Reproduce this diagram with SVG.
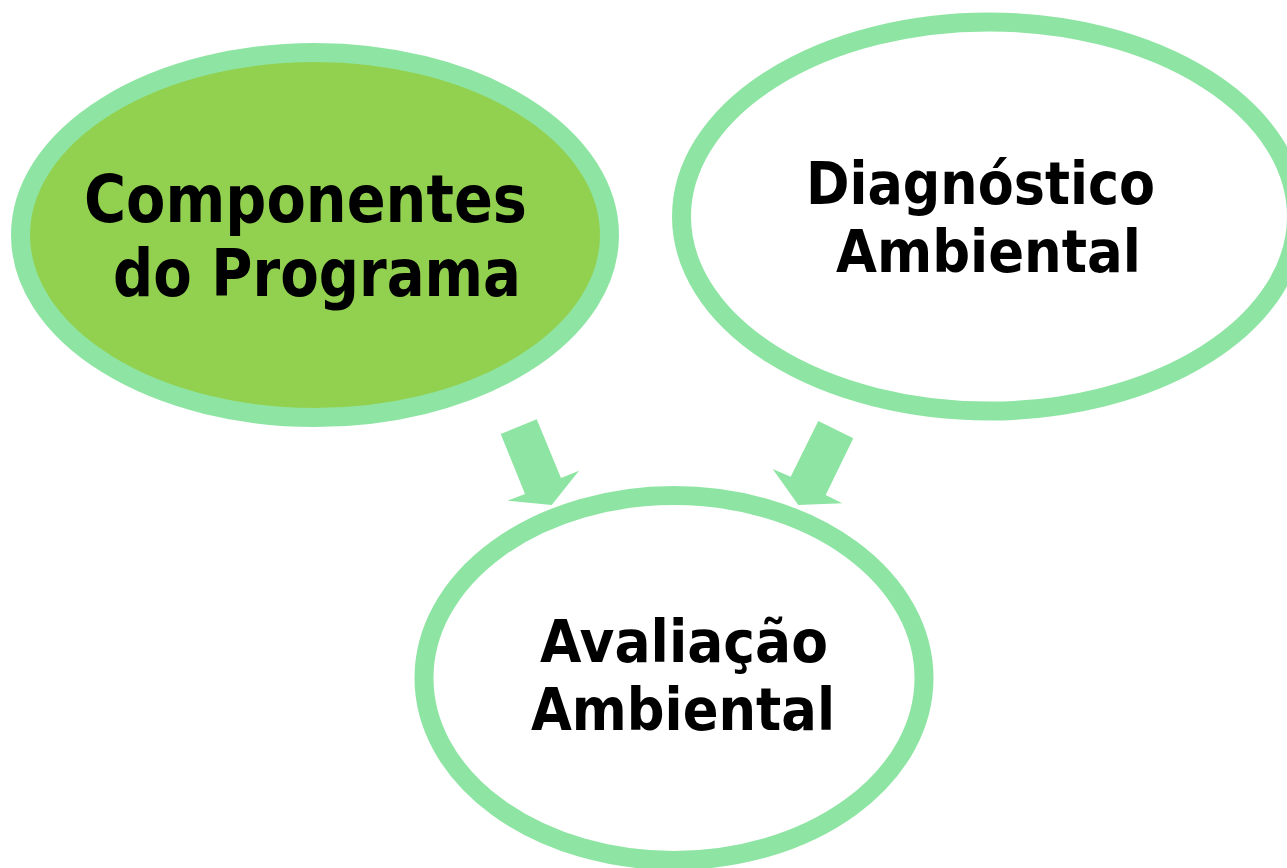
<svg xmlns="http://www.w3.org/2000/svg" width="1287" height="868" viewBox="0 0 1287 868">
<style>
.node{stroke:#8EE5A3;stroke-width:19}
.lbl{font-family:"DejaVu Sans","Liberation Sans",sans-serif;font-weight:bold;fill:#000}
.arrow{fill:#8EE5A3}
</style>
<rect width="1287" height="868" fill="#ffffff"/>
<g id="node-componentes">
<ellipse class="node" cx="315" cy="235" rx="294.5" ry="182.5" fill="#92D050"/>
<text class="lbl" font-size="66" x="84" y="222" textLength="443" lengthAdjust="spacingAndGlyphs">Componentes</text>
<text class="lbl" font-size="66" x="113" y="296" textLength="408" lengthAdjust="spacingAndGlyphs">do Programa</text>
</g>
<g id="node-diagnostico">
<ellipse class="node" cx="989" cy="216.5" rx="307.5" ry="194.5" fill="#ffffff"/>
<text class="lbl" font-size="59" x="806" y="204" textLength="349" lengthAdjust="spacingAndGlyphs">Diagnóstico</text>
<text class="lbl" font-size="59" x="836" y="272" textLength="305" lengthAdjust="spacingAndGlyphs">Ambiental</text>
</g>
<g id="node-avaliacao">
<ellipse class="node" cx="674" cy="678" rx="250" ry="182.5" fill="#ffffff"/>
<text class="lbl" font-size="59" x="540" y="662" textLength="288" lengthAdjust="spacingAndGlyphs">Avaliação</text>
<text class="lbl" font-size="59" x="531" y="730" textLength="304" lengthAdjust="spacingAndGlyphs">Ambiental</text>
</g>
<g id="connectors">
<polygon class="arrow" points="500.7,434 536.7,419.3 561,478 579,470.7 551.7,505 507.7,500.7 525,494"/>
<polygon class="arrow" points="818.3,421 853.3,438.3 825.7,495 842.3,503.3 798.3,505 772.7,469 790.7,476.7"/>
</g>
</svg>
